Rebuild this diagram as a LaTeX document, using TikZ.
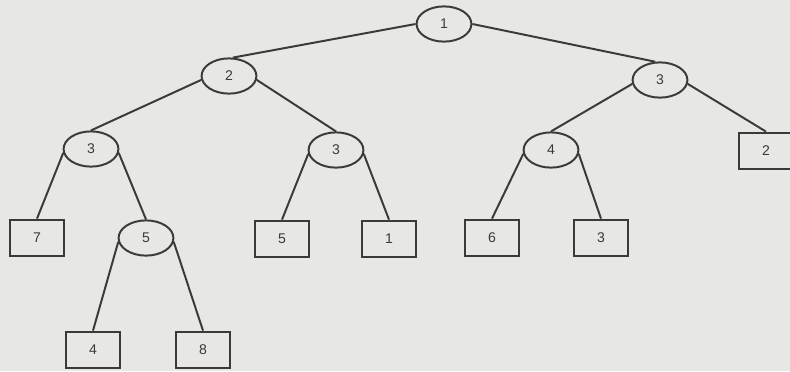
\documentclass[tikz,border=0pt]{standalone}
\usepackage{fontspec}
\setmainfont{Liberation Sans}
\usetikzlibrary{shapes.geometric}
\definecolor{paper}{HTML}{E7E7E5}
\definecolor{ink}{HTML}{3A3A3A}
\begin{document}
\begin{tikzpicture}[x=0.025cm, y=-0.025cm, line width=1.4pt, draw=ink,
    inode/.style={ellipse, draw=ink, text=ink, minimum width=1.37cm, minimum height=0.88cm, inner sep=0pt, font=\normalsize},
    leaf/.style={rectangle, draw=ink, text=ink, minimum width=1.37cm, minimum height=0.92cm, inner sep=0pt, font=\normalsize}]
\fill[paper] (0,0) rectangle (790,371);
\useasboundingbox (0,0) rectangle (790,371);

\foreach \n/\x/\y/\t in {r/444/24/1, a/229/76/2, b/660/80/3, c/91/149/3, d/336/150/3, e/551/150/4, f/146/238/5}
{
    \node[inode] (\n) at (\x,\y) {\t};
}
\foreach \n/\x/\y/\t in {g/37/238/7, h/282/239/5, i/389/239/1, j/492/238/6, k/601/238/3, l/766/151/2, m/93/350/4, n/203/350/8}
{
    \node[leaf] (\n) at (\x,\y) {\t};
}

\draw[ink] (r.west)--(a.78);
\draw[ink] (r.east)--(b.105);
\foreach \p/\cl/\cr in {a/c/d, b/e/l, c/g/f, d/h/i, e/j/k, f/m/n}
{
    \draw[ink] (\p.188)--(\cl.north);
    \draw[ink] (\p.-8)--(\cr.north);
}
\end{tikzpicture}
\end{document}
